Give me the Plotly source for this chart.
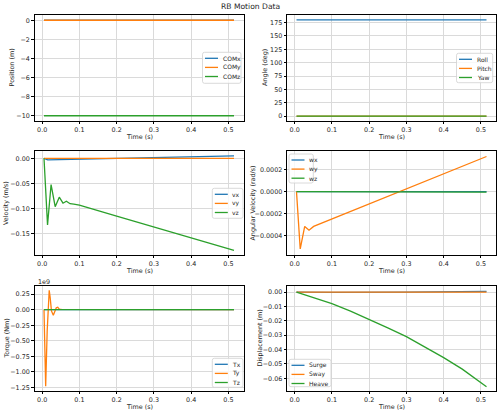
import plotly.graph_objects as go

W, H = 500, 414

# ---------------- data ----------------
t_flat = [0.005, 0.515]

# Position (m)
COMx = [0.0, 0.0]
COMy = [0.0, 0.0]
COMz = [-10.0, -10.0]

# Angle (deg)
Roll = [180.0, 180.0]
Pitch = [0.0, 0.0]
Yaw = [0.0, 0.0]

# Velocity (m/s)
t_vx = [0.005, 0.015, 0.515]
vx = [0.0, -0.003, 0.005]
vy = [0.0, 0.0]
t_vz = [0.005, 0.0145, 0.024, 0.035, 0.046, 0.056, 0.065, 0.075, 0.085, 0.1, 0.2, 0.3, 0.4, 0.515]
vz = [0.0, -0.132, -0.052, -0.096, -0.077, -0.089, -0.085, -0.090, -0.091, -0.093, -0.1145, -0.136, -0.157, -0.1825]

# Angular velocity (rad/s)
wx = [0.0, 0.0]
t_wy = [0.005, 0.015, 0.027, 0.0386, 0.051, 0.515]
wy = [0.0, -0.00052, -0.000315, -0.00035, -0.000315, 0.00032]
wz = [0.0, -0.000003]

# Torque (Nm)
Tx = [0.0, 0.0]
t_ty = [0.005, 0.0095, 0.0135, 0.0165, 0.019, 0.0215, 0.025, 0.030, 0.034, 0.038, 0.042, 0.046, 0.052, 0.515]
Ty = [0.0, -1.23e9, -0.35e9, 0.18e9, 0.31e9, 0.20e9, -0.02e9, -0.09e9, -0.03e9, 0.03e9, 0.04e9, 0.01e9, 0.005e9, 0.0]
Tz = [0.0, 0.0]

# Displacement (m)
t_surge = [0.005, 0.1, 0.3, 0.515]
Surge = [0.0, -0.0002, 0.0, 0.0005]
Sway = [0.0, 0.0]
t_heave = [0.005, 0.05, 0.1, 0.15, 0.2, 0.25, 0.3, 0.35, 0.4, 0.45, 0.515]
Heave = [0.0, -0.0038, -0.0081, -0.0133, -0.0190, -0.0249, -0.0310, -0.0381, -0.0456, -0.0536, -0.0658]

x_ticks = [0.0, 0.1, 0.2, 0.3, 0.4, 0.5]

# ---------------- styling ----------------
C = ["#1f77b4", "#ff7f0e", "#2ca02c"]
FONT = "DejaVu Sans"
FS = 6.4
TXT = "#262626"

cols = [(34.5, 243.5), (287.0, 496.0)]
rows = [(15.0, 121.0), (151.0, 255.0), (286.0, 391.0)]

panels = [
    dict(r=0, c=0, ytitle="Position (m)", ytx=11.5, yrange=[-10.55, 0.55], dtick=2, fmt="d",
         traces=[(t_flat, COMx, "COMx"), (t_flat, COMy, "COMy"), (t_flat, COMz, "COMz")],
         box=(202.5, 52.3, 241.0, 83.3)),
    dict(r=0, c=1, ytitle="Angle (deg)", ytx=265.0, yrange=[-9.0, 189.0], dtick=25, fmt="d",
         traces=[(t_flat, Roll, "Roll"), (t_flat, Pitch, "Pitch"), (t_flat, Yaw, "Yaw")],
         box=(456.5, 53.3, 492.7, 82.7)),
    dict(r=1, c=0, ytitle="Velocity (m/s)", ytx=6.0, yrange=[-0.1917, 0.0145], dtick=0.05, fmt=".2f",
         traces=[(t_vx, vx, "vx"), (t_flat, vy, "vy"), (t_vz, vz, "vz")],
         box=(212.3, 188.3, 243.0, 218.3)),
    dict(r=1, c=1, ytitle="Angular Velocity (rad/s)", ytx=252.5, yrange=[-0.000575, 0.00037], dtick=0.0002, fmt=".4f",
         traces=[(t_flat, wx, "wx"), (t_wy, wy, "wy"), (t_flat, wz, "wz")],
         box=(289.0, 154.0, 313.3, 183.0)),
    dict(r=2, c=0, ytitle="Torque (Nm)", ytx=6.0, yrange=[-1.305, 0.38], dtick=0.25, fmt=".2f", scale=1e9,
         traces=[(t_flat, Tx, "Tx"), (t_ty, Ty, "Ty"), (t_flat, Tz, "Tz")],
         box=(212.3, 358.3, 243.0, 387.3)),
    dict(r=2, c=1, ytitle="Displacement (m)", ytx=259.0, yrange=[-0.0688, 0.0042], dtick=0.01, fmt=".2f",
         traces=[(t_surge, Surge, "Surge"), (t_flat, Sway, "Sway"), (t_heave, Heave, "Heave")],
         box=(289.0, 359.3, 331.0, 386.7)),
]


def px(x):
    return x / W


def py(y):
    return 1 - y / H


fig = go.Figure()
shapes = []
annotations = []
layout = {}

for i, p in enumerate(panels, start=1):
    sfx = "" if i == 1 else str(i)
    x0, x1 = cols[p["c"]]
    y0, y1 = rows[p["r"]]
    scale = p.get("scale", 1.0)
    for k, (tt, vv, name) in enumerate(p["traces"]):
        fig.add_trace(go.Scatter(
            x=tt, y=[v / scale for v in vv], mode="lines", name=name,
            line=dict(color=C[k], width=1.3), showlegend=False,
            xaxis="x" + sfx, yaxis="y" + sfx))
    common = dict(showline=True, linecolor="#000", linewidth=0.8, mirror=True,
                  ticks="outside", ticklen=2.5, tickwidth=0.8, tickcolor="#000",
                  showgrid=True, gridcolor="#dadada", gridwidth=0.8, zeroline=False,
                  tickfont=dict(family=FONT, size=FS, color=TXT))
    layout["xaxis" + sfx] = dict(
        domain=[px(x0), px(x1)], anchor="y" + sfx, range=[-0.0205, 0.5405],
        tickvals=x_ticks, tickformat=".1f", **common)
    layout["yaxis" + sfx] = dict(
        domain=[py(y1), py(y0)], anchor="x" + sfx, range=p["yrange"],
        dtick=p["dtick"], tick0=0, tickformat=p["fmt"], **common)

    # axis titles
    annotations.append(dict(text="Time (s)", xref="paper", yref="paper",
                            x=px((x0 + x1) / 2), y=py(y1 + 16.2),
                            xanchor="center", yanchor="middle", showarrow=False,
                            font=dict(family=FONT, size=FS, color=TXT)))
    annotations.append(dict(text=p["ytitle"], xref="paper", yref="paper",
                            x=px(p["ytx"]), y=py((y0 + y1) / 2), textangle=-90,
                            xanchor="center", yanchor="middle", showarrow=False,
                            font=dict(family=FONT, size=FS, color=TXT)))

    # matplotlib-like legend box
    bx0, by0, bx1, by1 = p["box"]
    r = 2.0
    path = (f"M {px(bx0 + r)},{py(by0)} L {px(bx1 - r)},{py(by0)} "
            f"Q {px(bx1)},{py(by0)} {px(bx1)},{py(by0 + r)} "
            f"L {px(bx1)},{py(by1 - r)} Q {px(bx1)},{py(by1)} {px(bx1 - r)},{py(by1)} "
            f"L {px(bx0 + r)},{py(by1)} Q {px(bx0)},{py(by1)} {px(bx0)},{py(by1 - r)} "
            f"L {px(bx0)},{py(by0 + r)} Q {px(bx0)},{py(by0)} {px(bx0 + r)},{py(by0)} Z")
    shapes.append(dict(type="path", path=path, xref="paper", yref="paper",
                       fillcolor="rgba(255,255,255,0.8)", line=dict(color="#d0d0d0", width=0.8),
                       layer="above"))
    for k, (_, _, name) in enumerate(p["traces"]):
        yy = by0 + 6.0 + k * 9.1
        shapes.append(dict(type="line", xref="paper", yref="paper",
                           x0=px(bx0 + 2.5), x1=px(bx0 + 15.5), y0=py(yy), y1=py(yy),
                           line=dict(color=C[k], width=1.3), layer="above"))
        annotations.append(dict(text=name, xref="paper", yref="paper", x=px(bx0 + 18.0), y=py(yy),
                                xanchor="left", yanchor="middle", showarrow=False,
                                font=dict(family=FONT, size=6.0, color=TXT)))

# offset text for torque axis
annotations.append(dict(text="1e9", xref="paper", yref="paper", x=px(35.5), y=py(282.0),
                        xanchor="left", yanchor="middle", showarrow=False,
                        font=dict(family=FONT, size=FS, color=TXT)))
# figure title
annotations.append(dict(text="RB Motion Data", xref="paper", yref="paper", x=0.5, y=py(6.5),
                        xanchor="center", yanchor="middle", showarrow=False,
                        font=dict(family=FONT, size=7.6, color=TXT)))

fig.update_layout(
    width=W, height=H, margin=dict(l=0, r=0, t=0, b=0),
    paper_bgcolor="white", plot_bgcolor="white",
    showlegend=False, shapes=shapes, annotations=annotations,
    font=dict(family=FONT, size=FS, color=TXT),
    **layout)

fig.write_html("out.html")
